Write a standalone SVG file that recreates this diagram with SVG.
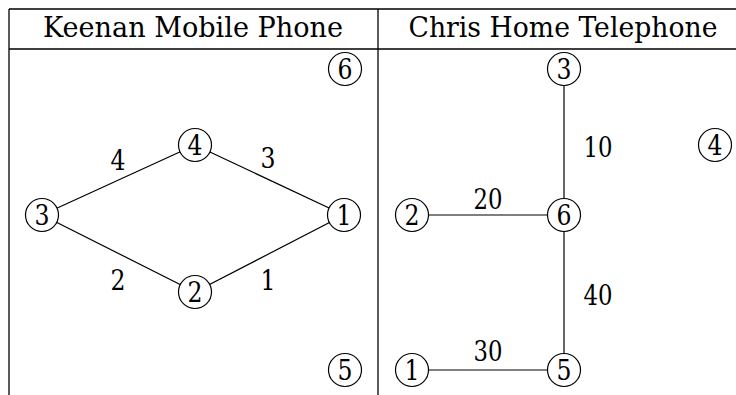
<svg xmlns="http://www.w3.org/2000/svg" width="736" height="395" viewBox="0 0 736 395">
<style>
text{fill:#000;text-anchor:middle;font-family:'DejaVu Serif',serif}
.t{font-size:28px}
.h{font-size:28px}
.n circle{fill:#fff;stroke:#000;stroke-width:1.2}
.e line{stroke:#000;stroke-width:1.2}
.grid line{stroke:#000;stroke-width:1.3}
</style>
<rect width="736" height="395" fill="#fff"/>
<g id="table" class="grid">
<line x1="9" y1="9" x2="736" y2="9"/>
<line x1="9" y1="49" x2="736" y2="49"/>
<line x1="9" y1="9" x2="9" y2="395"/>
<line x1="378" y1="9" x2="378" y2="395"/>
</g>
<text class="h" x="193" y="37" textLength="300" lengthAdjust="spacingAndGlyphs">Keenan Mobile Phone</text>
<text class="h" x="563" y="37" textLength="309" lengthAdjust="spacingAndGlyphs">Chris Home Telephone</text>
<g id="connectors" class="e">
<line x1="42" y1="215" x2="195" y2="145"/>
<line x1="195" y1="145" x2="344" y2="215"/>
<line x1="42" y1="215" x2="195" y2="292"/>
<line x1="195" y1="292" x2="344" y2="215"/>
<line x1="564" y1="69" x2="564" y2="215"/>
<line x1="412" y1="215" x2="564" y2="215"/>
<line x1="564" y1="215" x2="564" y2="370"/>
<line x1="412" y1="370" x2="564" y2="370"/>
</g>
<g id="edge-labels">
<text class="t" x="118" y="170" textLength="15" lengthAdjust="spacingAndGlyphs">4</text>
<text class="t" x="268" y="168" textLength="15" lengthAdjust="spacingAndGlyphs">3</text>
<text class="t" x="118" y="290" textLength="15" lengthAdjust="spacingAndGlyphs">2</text>
<text class="t" x="268" y="290" textLength="15" lengthAdjust="spacingAndGlyphs">1</text>
<text class="t" x="598" y="157" textLength="29" lengthAdjust="spacingAndGlyphs">10</text>
<text class="t" x="488" y="209" textLength="29" lengthAdjust="spacingAndGlyphs">20</text>
<text class="t" x="598" y="305" textLength="29" lengthAdjust="spacingAndGlyphs">40</text>
<text class="t" x="488" y="361" textLength="29" lengthAdjust="spacingAndGlyphs">30</text>
</g>
<g id="k6" class="n"><circle cx="345" cy="69" r="16.5"/><text class="t" x="345" y="79" textLength="15" lengthAdjust="spacingAndGlyphs">6</text></g>
<g id="k4" class="n"><circle cx="195" cy="145" r="16.5"/><text class="t" x="195" y="155" textLength="15" lengthAdjust="spacingAndGlyphs">4</text></g>
<g id="k3" class="n"><circle cx="42" cy="215" r="16.5"/><text class="t" x="42" y="225" textLength="15" lengthAdjust="spacingAndGlyphs">3</text></g>
<g id="k1" class="n"><circle cx="344" cy="215" r="16.5"/><text class="t" x="344" y="225" textLength="15" lengthAdjust="spacingAndGlyphs">1</text></g>
<g id="k2" class="n"><circle cx="195" cy="292" r="16.5"/><text class="t" x="195" y="302" textLength="15" lengthAdjust="spacingAndGlyphs">2</text></g>
<g id="k5" class="n"><circle cx="345" cy="370" r="16.5"/><text class="t" x="345" y="380" textLength="15" lengthAdjust="spacingAndGlyphs">5</text></g>
<g id="c3" class="n"><circle cx="564" cy="69" r="16.5"/><text class="t" x="564" y="79" textLength="15" lengthAdjust="spacingAndGlyphs">3</text></g>
<g id="c4" class="n"><circle cx="715" cy="145" r="16.5"/><text class="t" x="715" y="155" textLength="15" lengthAdjust="spacingAndGlyphs">4</text></g>
<g id="c2" class="n"><circle cx="412" cy="215" r="16.5"/><text class="t" x="412" y="225" textLength="15" lengthAdjust="spacingAndGlyphs">2</text></g>
<g id="c6" class="n"><circle cx="564" cy="215" r="16.5"/><text class="t" x="564" y="225" textLength="15" lengthAdjust="spacingAndGlyphs">6</text></g>
<g id="c1" class="n"><circle cx="412" cy="370" r="16.5"/><text class="t" x="412" y="380" textLength="15" lengthAdjust="spacingAndGlyphs">1</text></g>
<g id="c5" class="n"><circle cx="564" cy="370" r="16.5"/><text class="t" x="564" y="380" textLength="15" lengthAdjust="spacingAndGlyphs">5</text></g>
</svg>
